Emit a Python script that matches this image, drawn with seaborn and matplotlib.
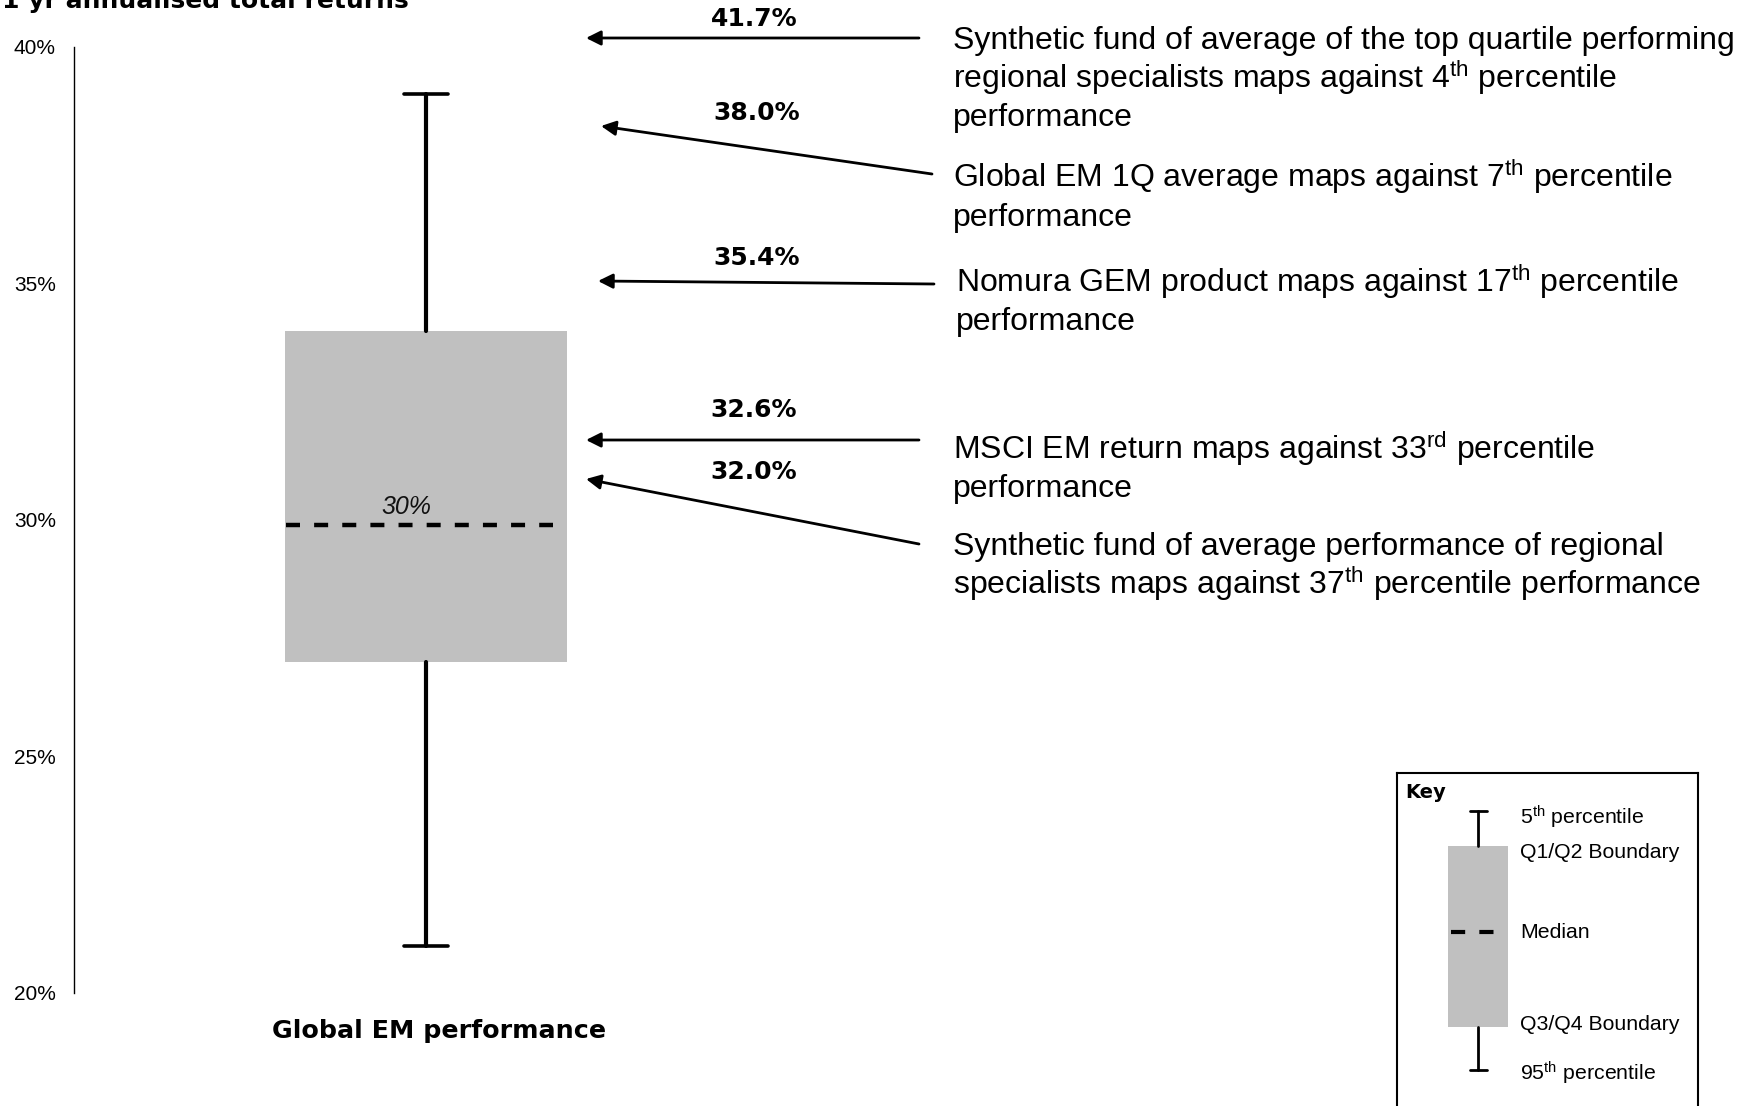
import matplotlib
matplotlib.use("Agg")
import matplotlib.pyplot as plt
import seaborn as sns

# ---------------- data ----------------
category = "Global EM performance"
pct_5th = 39.0     # top whisker (5th percentile)
q1_q2 = 34.0       # Q1/Q2 boundary
median = 29.9
q3_q4 = 27.0       # Q3/Q4 boundary
pct_95th = 21.0    # bottom whisker (95th percentile)
median_label = "30%"

y_ticks = [20, 25, 30, 35, 40]
y_tick_labels = ["20%", "25%", "30%", "35%", "40%"]

marker_values = [41.7, 38.0, 35.4, 32.6, 32.0]
marker_texts = [
    "Synthetic fund of average of the top quartile performing\nregional specialists maps against 4$^{\\mathrm{th}}$ percentile\nperformance",
    "Global EM 1Q average maps against 7$^{\\mathrm{th}}$ percentile\nperformance",
    "Nomura GEM product maps against 17$^{\\mathrm{th}}$ percentile\nperformance",
    "MSCI EM return maps against 33$^{\\mathrm{rd}}$ percentile\nperformance",
    "Synthetic fund of average performance of regional\nspecialists maps against 37$^{\\mathrm{th}}$ percentile performance",
]
key_labels = ["5$^{\\mathrm{th}}$ percentile", "Q1/Q2 Boundary", "Median",
              "Q3/Q4 Boundary", "95$^{\\mathrm{th}}$ percentile"]
title = "1 yr annualised total returns"

# ---------------- layout (pixels, top-left origin) ----------------
W, H = 1744, 1106
sns.set_theme(style="white")
plt.rcParams["font.family"] = ["Liberation Sans", "DejaVu Sans"]
plt.rcParams["mathtext.fontset"] = "custom"
plt.rcParams["mathtext.rm"] = "Liberation Sans"
plt.rcParams["mathtext.it"] = "Liberation Sans:italic"
plt.rcParams["mathtext.bf"] = "Liberation Sans:bold"

fig = plt.figure(figsize=(W / 100, H / 100), dpi=100)
fig.patch.set_facecolor("white")


def fx(px):
    return px / W


def fy(py):
    return 1 - py / H


BOLD = dict(family="DejaVu Sans", fontweight="bold", color="black")
GREY = "#c0c0c0"

# main axes: y in %, x in pixels
ax_left, ax_top, ax_bottom = 74, 46.7, 993
ax = fig.add_axes([fx(ax_left), fy(ax_bottom), 1 - fx(ax_left), (ax_bottom - ax_top) / H])
ax.set_facecolor("none")
ax.set_xlim(ax_left, W)
ax.set_ylim(20, 40)

stats = [dict(label=category, whislo=pct_95th, q1=q3_q4, med=median, q3=q1_q2, whishi=pct_5th)]
ax.bxp(stats, positions=[426], widths=282, capwidths=44, showfliers=False,
       patch_artist=True, manage_ticks=False,
       boxprops=dict(facecolor=GREY, edgecolor="none", linewidth=0),
       whiskerprops=dict(color="black", linewidth=3.0),
       capprops=dict(color="black", linewidth=2.6),
       medianprops=dict(linestyle="none"))
ax.hlines(median, 285.7, 553, colors="black", linewidth=3.2,
          linestyles=[(0, (3.15, 3.18))])
ax.text(406, median + 0.37, median_label, ha="center", va="center",
        fontsize=18, style="italic", color="#111111")

for s in ["top", "right", "bottom"]:
    ax.spines[s].set_visible(False)
ax.spines["left"].set_color("black")
ax.spines["left"].set_linewidth(1.0)
ax.set_xticks([])
ax.set_yticks(y_ticks)
ax.set_yticklabels(y_tick_labels, fontsize=15, color="black")
ax.tick_params(axis="y", length=0, pad=13)
ax.grid(False)

# title and category label
fig.text(fx(2), fy(8), title, ha="left", va="baseline", fontsize=18, **BOLD)
fig.text(fx(439), fy(1031), category, ha="center", va="center", fontsize=18.3, **BOLD)

# annotations
label_pos = [(754, 19), (757, 113), (757, 258), (754, 410), (754, 472)]
arrow_tail = [(919, 38), (932, 174), (934, 284), (919, 440), (919, 544)]
arrow_tip = [(586, 38), (601, 126), (598, 281), (586, 440), (586, 479)]
text_pos = [(953, 37.8), (953, 175.7), (956, 280.3), (953, 447.1), (953, 543.9)]
LINE_GAP = 38.4
TXT_SIZE = 23
baseline_shift = 0.36 * TXT_SIZE * 100 / 72

for val, txt, lp, at, ah, tp in zip(marker_values, marker_texts, label_pos,
                                    arrow_tail, arrow_tip, text_pos):
    fig.text(fx(lp[0]), fy(lp[1]), f"{val:.1f}%", ha="center", va="center",
             fontsize=18, **BOLD)
    ax.annotate("", xy=(fx(ah[0]), fy(ah[1])), xytext=(fx(at[0]), fy(at[1])),
                xycoords="figure fraction", textcoords="figure fraction",
                arrowprops=dict(arrowstyle="-|>", color="black", lw=2.0,
                                mutation_scale=22, shrinkA=0, shrinkB=0))
    for i, line in enumerate(txt.split("\n")):
        fig.text(fx(tp[0]), fy(tp[1] + i * LINE_GAP + baseline_shift), line,
                 ha="left", va="baseline", fontsize=TXT_SIZE, color="black")

# key
kx0, kx1, ky0, ky1 = 1397, 1698, 773, 1112
kax = fig.add_axes([fx(kx0), fy(ky1), (kx1 - kx0) / W, (ky1 - ky0) / H])
kax.set_xlim(kx0, kx1)
kax.set_ylim(H - ky1, H - ky0)
kax.set_facecolor("white")
for s in kax.spines.values():
    s.set_color("black")
    s.set_linewidth(1.5)
    s.set_visible(True)
kax.set_xticks([])
kax.set_yticks([])
kax.grid(False)
key_stats = [dict(whislo=H - 1070, q1=H - 1027, med=H - 932, q3=H - 846, whishi=H - 811)]
kax.bxp(key_stats, positions=[1478], widths=60, capwidths=17, showfliers=False,
        patch_artist=True, manage_ticks=False,
        boxprops=dict(facecolor=GREY, edgecolor="none", linewidth=0),
        whiskerprops=dict(color="black", linewidth=2.0),
        capprops=dict(color="black", linewidth=2.0),
        medianprops=dict(linestyle="none"))
kax.hlines(H - 932, 1451, 1494, colors="black", linewidth=3.0,
           linestyles=[(0, (3.4, 3.4))])
kax.text(1405, H - 793, "Key", ha="left", va="center", fontsize=14, **BOLD)
for lab, py in zip(key_labels, [817, 853, 933, 1025, 1073]):
    kax.text(1520, H - py, lab, ha="left", va="center", fontsize=15.3, color="black")

fig.savefig("out.png", dpi=100, facecolor="white")
